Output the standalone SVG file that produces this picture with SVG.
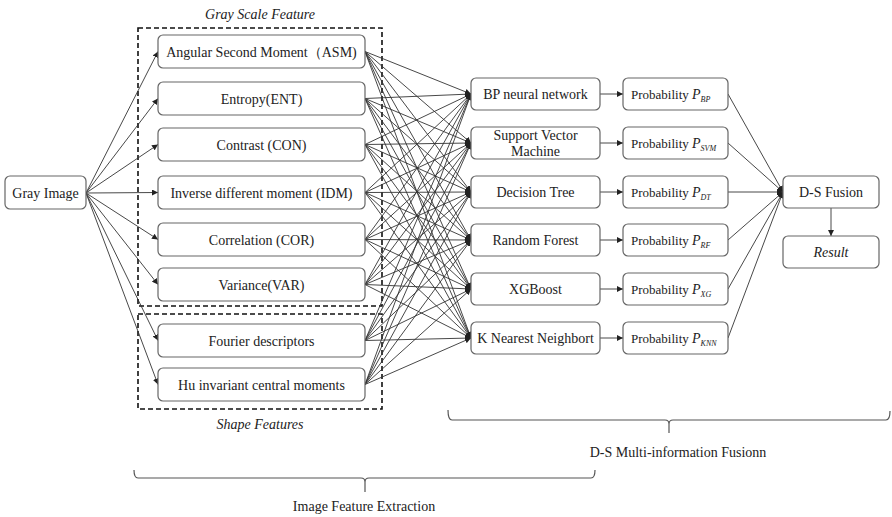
<svg xmlns="http://www.w3.org/2000/svg" width="892" height="517" viewBox="0 0 892 517">
<defs>
<marker id="ah" markerUnits="userSpaceOnUse" markerWidth="7" markerHeight="6" refX="6" refY="3" orient="auto">
<path d="M0,0 L6,3 L0,6 Z" fill="#222"/>
</marker>
<style>
.box{fill:#fff;stroke:#666;stroke-width:1.2}
.t{font-family:"Liberation Serif","Times New Roman",serif;font-size:14px;fill:#222;text-anchor:middle}
.i{font-style:italic}
.pl{font-family:"Liberation Serif","Times New Roman",serif;font-size:13px;fill:#222}
.c line{stroke:#333;stroke-width:0.9;marker-end:url(#ah)}
.dash{fill:none;stroke:#111;stroke-width:1.6;stroke-dasharray:5 3}
.br{fill:none;stroke:#555;stroke-width:1.2}
</style>
</defs>
<rect width="892" height="517" fill="#fff"/>

<g id="groups">
<rect class="dash" x="138" y="28" width="244" height="278"/>
<rect class="dash" x="138" y="314" width="244" height="95"/>
<text class="t i" x="260" y="19">Gray Scale Feature</text>
<text class="t i" x="260" y="429">Shape Features</text>
</g>

<g id="connectors" class="c">
<line x1="86" y1="193" x2="158" y2="51.5"/>
<line x1="86" y1="193" x2="158" y2="98.5"/>
<line x1="86" y1="193" x2="158" y2="144.5"/>
<line x1="86" y1="193" x2="158" y2="192.5"/>
<line x1="86" y1="193" x2="158" y2="239.5"/>
<line x1="86" y1="193" x2="158" y2="284.5"/>
<line x1="86" y1="193" x2="158" y2="340.5"/>
<line x1="86" y1="193" x2="158" y2="384.5"/>

<line x1="365" y1="51.5" x2="471" y2="94"/>
<line x1="365" y1="51.5" x2="471" y2="143"/>
<line x1="365" y1="51.5" x2="471" y2="192"/>
<line x1="365" y1="51.5" x2="471" y2="240"/>
<line x1="365" y1="51.5" x2="471" y2="289"/>
<line x1="365" y1="51.5" x2="471" y2="338"/>
<line x1="365" y1="98.5" x2="471" y2="94"/>
<line x1="365" y1="98.5" x2="471" y2="143"/>
<line x1="365" y1="98.5" x2="471" y2="192"/>
<line x1="365" y1="98.5" x2="471" y2="240"/>
<line x1="365" y1="98.5" x2="471" y2="289"/>
<line x1="365" y1="98.5" x2="471" y2="338"/>
<line x1="365" y1="144.5" x2="471" y2="94"/>
<line x1="365" y1="144.5" x2="471" y2="143"/>
<line x1="365" y1="144.5" x2="471" y2="192"/>
<line x1="365" y1="144.5" x2="471" y2="240"/>
<line x1="365" y1="144.5" x2="471" y2="289"/>
<line x1="365" y1="144.5" x2="471" y2="338"/>
<line x1="365" y1="192.5" x2="471" y2="94"/>
<line x1="365" y1="192.5" x2="471" y2="143"/>
<line x1="365" y1="192.5" x2="471" y2="192"/>
<line x1="365" y1="192.5" x2="471" y2="240"/>
<line x1="365" y1="192.5" x2="471" y2="289"/>
<line x1="365" y1="192.5" x2="471" y2="338"/>
<line x1="365" y1="239.5" x2="471" y2="94"/>
<line x1="365" y1="239.5" x2="471" y2="143"/>
<line x1="365" y1="239.5" x2="471" y2="192"/>
<line x1="365" y1="239.5" x2="471" y2="240"/>
<line x1="365" y1="239.5" x2="471" y2="289"/>
<line x1="365" y1="239.5" x2="471" y2="338"/>
<line x1="365" y1="284.5" x2="471" y2="94"/>
<line x1="365" y1="284.5" x2="471" y2="143"/>
<line x1="365" y1="284.5" x2="471" y2="192"/>
<line x1="365" y1="284.5" x2="471" y2="240"/>
<line x1="365" y1="284.5" x2="471" y2="289"/>
<line x1="365" y1="284.5" x2="471" y2="338"/>
<line x1="365" y1="340.5" x2="471" y2="94"/>
<line x1="365" y1="340.5" x2="471" y2="143"/>
<line x1="365" y1="340.5" x2="471" y2="192"/>
<line x1="365" y1="340.5" x2="471" y2="240"/>
<line x1="365" y1="340.5" x2="471" y2="289"/>
<line x1="365" y1="340.5" x2="471" y2="338"/>
<line x1="365" y1="384.5" x2="471" y2="94"/>
<line x1="365" y1="384.5" x2="471" y2="143"/>
<line x1="365" y1="384.5" x2="471" y2="192"/>
<line x1="365" y1="384.5" x2="471" y2="240"/>
<line x1="365" y1="384.5" x2="471" y2="289"/>
<line x1="365" y1="384.5" x2="471" y2="338"/>

<line x1="600" y1="94" x2="623" y2="94"/>
<line x1="600" y1="143" x2="623" y2="143"/>
<line x1="600" y1="192" x2="623" y2="192"/>
<line x1="600" y1="240" x2="623" y2="240"/>
<line x1="600" y1="289" x2="623" y2="289"/>
<line x1="600" y1="338" x2="623" y2="338"/>

<line x1="728" y1="94" x2="783" y2="192"/>
<line x1="728" y1="143" x2="783" y2="192"/>
<line x1="728" y1="192" x2="783" y2="192"/>
<line x1="728" y1="240" x2="783" y2="192"/>
<line x1="728" y1="289" x2="783" y2="192"/>
<line x1="728" y1="338" x2="783" y2="192"/>

<line x1="831" y1="208" x2="831" y2="236"/>
</g>

<g id="gray-image"><rect class="box" x="5" y="176" width="81" height="33" rx="5"/><text class="t" x="45.5" y="197.5">Gray Image</text></g>

<g id="asm"><rect class="box" x="158" y="35" width="207" height="33" rx="5"/><text class="t" x="261.5" y="56.5">Angular Second Moment（ASM)</text></g>
<g id="ent"><rect class="box" x="158" y="82" width="207" height="33" rx="5"/><text class="t" x="261.5" y="103.5">Entropy(ENT)</text></g>
<g id="con"><rect class="box" x="158" y="128" width="207" height="33" rx="5"/><text class="t" x="261.5" y="149.5">Contrast (CON)</text></g>
<g id="idm"><rect class="box" x="158" y="176" width="207" height="33" rx="5"/><text class="t" x="261.5" y="197.5">Inverse different moment (IDM)</text></g>
<g id="cor"><rect class="box" x="158" y="223" width="207" height="33" rx="5"/><text class="t" x="261.5" y="244.5">Correlation (COR)</text></g>
<g id="var"><rect class="box" x="158" y="268" width="207" height="33" rx="5"/><text class="t" x="261.5" y="289.5">Variance(VAR)</text></g>
<g id="fourier"><rect class="box" x="158" y="324" width="207" height="33" rx="5"/><text class="t" x="261.5" y="345.5">Fourier descriptors</text></g>
<g id="hu"><rect class="box" x="158" y="368" width="207" height="33" rx="5"/><text class="t" x="261.5" y="389.5">Hu invariant central moments</text></g>

<g id="bp"><rect class="box" x="471" y="78" width="129" height="32" rx="5"/><text class="t" x="535.5" y="99">BP neural network</text></g>
<g id="svm"><rect class="box" x="471" y="127" width="129" height="32" rx="5"/><text class="t" x="535.5" y="140">Support Vector</text><text class="t" x="535.5" y="156">Machine</text></g>
<g id="dt"><rect class="box" x="471" y="176" width="129" height="32" rx="5"/><text class="t" x="535.5" y="197">Decision Tree</text></g>
<g id="rf"><rect class="box" x="471" y="224" width="129" height="32" rx="5"/><text class="t" x="535.5" y="245">Random Forest</text></g>
<g id="xgb"><rect class="box" x="471" y="273" width="129" height="32" rx="5"/><text class="t" x="535.5" y="294">XGBoost</text></g>
<g id="knn"><rect class="box" x="471" y="322" width="129" height="32" rx="5"/><text class="t" x="535.5" y="343">K Nearest Neighbort</text></g>

<g id="p-bp"><rect class="box" x="623" y="78" width="105" height="32" rx="5"/><text class="pl" x="631" y="99">Probability <tspan font-style="italic" font-size="14">P</tspan><tspan font-style="italic" font-size="8" dy="3">BP</tspan></text></g>
<g id="p-svm"><rect class="box" x="623" y="127" width="105" height="32" rx="5"/><text class="pl" x="631" y="148">Probability <tspan font-style="italic" font-size="14">P</tspan><tspan font-style="italic" font-size="8" dy="3">SVM</tspan></text></g>
<g id="p-dt"><rect class="box" x="623" y="176" width="105" height="32" rx="5"/><text class="pl" x="631" y="197">Probability <tspan font-style="italic" font-size="14">P</tspan><tspan font-style="italic" font-size="8" dy="3">DT</tspan></text></g>
<g id="p-rf"><rect class="box" x="623" y="224" width="105" height="32" rx="5"/><text class="pl" x="631" y="245">Probability <tspan font-style="italic" font-size="14">P</tspan><tspan font-style="italic" font-size="8" dy="3">RF</tspan></text></g>
<g id="p-xg"><rect class="box" x="623" y="273" width="105" height="32" rx="5"/><text class="pl" x="631" y="294">Probability <tspan font-style="italic" font-size="14">P</tspan><tspan font-style="italic" font-size="8" dy="3">XG</tspan></text></g>
<g id="p-knn"><rect class="box" x="623" y="322" width="105" height="32" rx="5"/><text class="pl" x="631" y="343">Probability <tspan font-style="italic" font-size="14">P</tspan><tspan font-style="italic" font-size="8" dy="3">KNN</tspan></text></g>

<g id="ds-fusion"><rect class="box" x="783" y="176" width="96" height="32" rx="5"/><text class="t" x="831" y="197">D-S Fusion</text></g>
<g id="result"><rect class="box" x="783" y="236" width="96" height="32" rx="5"/><text class="t i" x="831" y="257">Result</text></g>

<g id="braces">
<path class="br" d="M448,410 Q448,420 452,420 L665,420 Q669,420 669,424 L669,433 M669,424 Q669,420 673,420 L886,420 Q890,420 890,411"/>
<text class="t" x="678" y="457">D-S Multi-information Fusionn</text>
<path class="br" d="M134,470 Q134,478 138,478 L361,478 Q365,478 365,482 L365,492 M365,482 Q365,478 369,478 L591,478 Q595,478 595,470"/>
<text class="t" x="364" y="511">Image Feature Extraction</text>
</g>
</svg>
